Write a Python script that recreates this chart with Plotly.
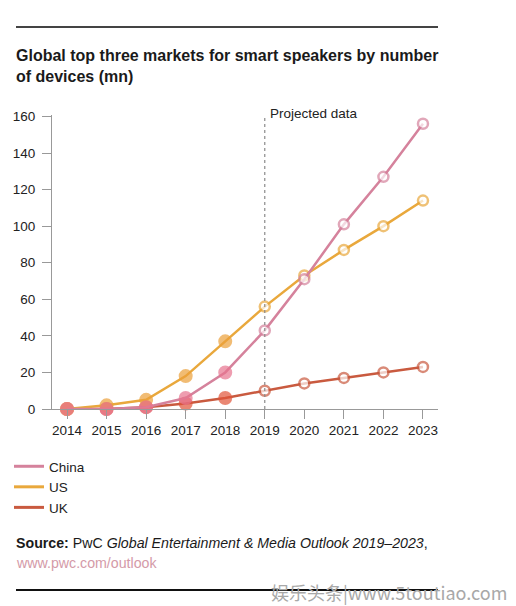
import plotly.graph_objects as go

years = [2014, 2015, 2016, 2017, 2018, 2019, 2020, 2021, 2022, 2023]
china = [0, 0, 1, 6, 20, 43, 71, 101, 127, 156]
us = [0, 2, 5, 18, 37, 56, 73, 87, 100, 114]
uk = [0, 0, 1, 3, 6, 10, 14, 17, 20, 23]
projected_from = 2019
y_ticks = [0, 20, 40, 60, 80, 100, 120, 140, 160]

series = [
    ("UK", uk, "#c95a3f", "#e2553a"),
    ("US", us, "#e9a83c", "#eca03a"),
    ("China", china, "#d5829c", "#e8748f"),
]
legend_order = ["China", "US", "UK"]

OFF = 8  # browser body margin
W, H = 516 - OFF, 606 - OFF
L, R, T, B = 52 - OFF, 438 - OFF, 115 - OFF, 409 - OFF


def px(xp):
    return (xp - OFF - L) / (R - L)


def py(yp):
    return (B - (yp - OFF)) / (B - T)


fig = go.Figure()
FONT = "Liberation Sans, Arial, sans-serif"

for name, vals, lcol, fcol in series:
    fills = [fcol if y < projected_from else "white" for y in years]
    lines = [fcol if y < projected_from else lcol for y in years]
    sizes = [11.5 if y < projected_from else 10 for y in years]
    fig.add_trace(go.Scatter(
        x=years, y=vals, mode="lines+markers", name=name, showlegend=False,
        line=dict(color=lcol, width=2.5),
        marker=dict(color=fills, size=sizes, line=dict(color=lines, width=2.5)),
        cliponaxis=False,
    ))

colors = {n: c for n, _, c, _ in series}
for n in legend_order:
    fig.add_trace(go.Scatter(
        x=[None], y=[None], mode="lines", name=n,
        line=dict(color=colors[n], width=3),
    ))

# projected divider
fig.add_shape(type="line", xref="x", yref="y", x0=projected_from, x1=projected_from,
              y0=0, y1=162.5, line=dict(color="#8a8a8a", width=1.2, dash="dot"))
fig.add_annotation(x=projected_from, y=py(113), xref="x", yref="paper", xshift=3,
                   text="Projected data", showarrow=False, xanchor="left", yanchor="middle",
                   font=dict(family=FONT, size=13.5, color="#222"))

# title
fig.add_annotation(x=px(14), y=py(66), xref="paper", yref="paper", align="left",
                   text="<b>Global top three markets for smart speakers by number<br>of devices (mn)</b>",
                   showarrow=False, xanchor="left", yanchor="middle",
                   font=dict(family=FONT, size=16, color="#1a1a1a"))

# source
fig.add_annotation(x=px(14), y=py(543), xref="paper", yref="paper", align="left",
                   text="<b>Source:</b> PwC <i>Global Entertainment &amp; Media Outlook 2019–2023</i>,",
                   showarrow=False, xanchor="left", yanchor="middle",
                   font=dict(family=FONT, size=14.2, color="#1a1a1a"))
fig.add_annotation(x=px(14), y=py(563), xref="paper", yref="paper", align="left",
                   text="www.pwc.com/outlook",
                   showarrow=False, xanchor="left", yanchor="middle",
                   font=dict(family=FONT, size=14.2, color="#d49aa8"))

# rules
fig.add_shape(type="line", xref="paper", yref="paper", x0=px(16), x1=px(438),
              y0=py(27), y1=py(27), line=dict(color="#444", width=2))
fig.add_shape(type="line", xref="paper", yref="paper", x0=px(16), x1=px(438),
              y0=py(590), y1=py(590), line=dict(color="#111", width=2))

# watermark
fig.add_annotation(x=px(509), y=py(592), xref="paper", yref="paper",
                   text="娱乐头条|www.5toutiao.com", showarrow=False,
                   xanchor="right", yanchor="middle",
                   font=dict(family="Noto Sans CJK SC, sans-serif", size=18, color="#a8a8a8"))

fig.update_layout(
    width=W, height=H,
    margin=dict(l=L, r=W - R, t=T, b=H - B, pad=0, autoexpand=False),
    paper_bgcolor="white", plot_bgcolor="white",
    font=dict(family=FONT, size=13, color="#222"),
    showlegend=True,
    legend=dict(x=px(9), y=py(451), xanchor="left", yanchor="top",
                bgcolor="rgba(0,0,0,0)", borderwidth=0,
                font=dict(family=FONT, size=13.5, color="#222"),
                tracegroupgap=0, itemwidth=30),
    xaxis=dict(range=[2013.62, 2023.38], tickvals=years, ticktext=[str(y) for y in years],
               showgrid=False, zeroline=False, showline=True, linecolor="#999", linewidth=1,
               ticks="outside", ticklen=9, tickcolor="#999", tickwidth=1,
               tickfont=dict(family=FONT, size=13.5, color="#222"), fixedrange=True),
    yaxis=dict(range=[0, 160.8], tickvals=y_ticks, showgrid=False, zeroline=False,
               showline=True, linecolor="#999", linewidth=1,
               ticks="outside", ticklen=9, tickcolor="#999", tickwidth=1,
               ticklabelstandoff=4,
               tickfont=dict(family=FONT, size=13.5, color="#222"), fixedrange=True),
)

fig.write_html("out.html")
